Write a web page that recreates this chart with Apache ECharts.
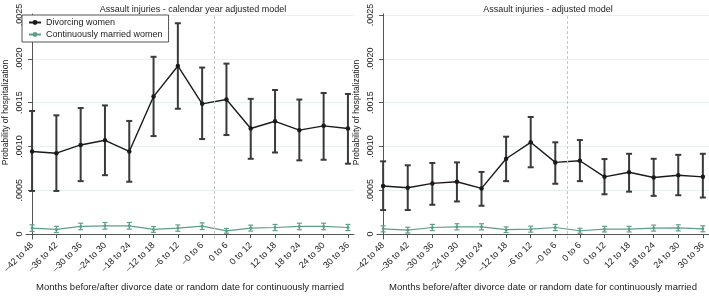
<!DOCTYPE html>
<html>
<head>
<meta charset="utf-8">
<script src="https://cdn.jsdelivr.net/npm/echarts@6/dist/echarts.min.js"></script>
<style>
html,body{margin:0;padding:0;background:#fff;}
#chart{width:709px;height:297px;}
</style>
</head>
<body>
<div id="chart"></div>
<script>
// categories (months before/after divorce)
var categories = ['\u201342 to 48','\u201336 to 42','\u201330 to 36','\u201324 to 30','\u201318 to 24','\u201312 to 18','\u20136 to 12','\u20130 to 6','0 to 6','0 to 12','12 to 18','18 to 24','24 to 30','30 to 36'];
var yTicks = [0, 0.0005, 0.001, 0.0015, 0.002, 0.0025];
var yTickLabels = ['0', '.0005', '.0010', '.0015', '.0020', '.0025'];

// left panel: calendar year adjusted model
var calDivorcing    = [0.000943,0.000923,0.001017,0.00107,0.000943,0.001569,0.001918,0.001486,0.001535,0.001205,0.001287,0.001186,0.001235,0.001205];
var calDivorcingLo  = [0.000492,0.000492,0.000604,0.000672,0.000597,0.001118,0.00143,0.001084,0.00113,0.000859,0.000931,0.000841,0.000848,0.000803];
var calDivorcingHi  = [0.001404,0.001355,0.001438,0.001468,0.001291,0.002023,0.002406,0.0019,0.001945,0.001543,0.001644,0.001535,0.00161,0.001599];
var calMarried      = [0.000068,0.000053,0.000087,0.000094,0.000094,0.000053,0.000068,0.00009,0.000037,0.000068,0.000075,0.000087,0.000087,0.000075];
var calMarriedLo    = [0.000030,0.000018,0.000050,0.000056,0.000056,0.000020,0.000032,0.000052,0.000010,0.000034,0.000040,0.000050,0.000050,0.000040];
var calMarriedHi    = [0.000106,0.000088,0.000124,0.000132,0.000132,0.000086,0.000104,0.000128,0.000064,0.000102,0.00011,0.000124,0.000124,0.00011];

// right panel: adjusted model
var adjDivorcing    = [0.000548,0.000529,0.000578,0.000597,0.000521,0.000859,0.001047,0.000818,0.000837,0.000653,0.000706,0.000645,0.000672,0.000653];
var adjDivorcingLo  = [0.000274,0.000274,0.000334,0.000372,0.000323,0.000604,0.000762,0.000574,0.000604,0.000454,0.000484,0.000436,0.000443,0.000417];
var adjDivorcingHi  = [0.00083,0.000785,0.000811,0.000818,0.000709,0.001111,0.001336,0.001047,0.001073,0.000856,0.000916,0.000859,0.000904,0.000916];
var adjMarried      = [0.00006,0.000045,0.000075,0.000083,0.000083,0.00005,0.000056,0.000075,0.000038,0.000056,0.000056,0.000068,0.000071,0.00006];
var adjMarriedLo    = [0.000025,0.000012,0.000040,0.000048,0.000048,0.000018,0.000022,0.000040,0.000010,0.000024,0.000024,0.000034,0.000036,0.000026];
var adjMarriedHi    = [0.000095,0.000078,0.00011,0.000118,0.000118,0.000082,0.00009,0.00011,0.000066,0.000088,0.000088,0.000102,0.000106,0.000094];

var FONT = '"Liberation Sans", Arial, sans-serif';
var BLACK = '#1a1a1a';
var GREEN = '#5f9e86';

function pts(arr){
    return arr.map(function(v, i){ return [i, v]; });
}
function bars(lo, hi){
    return lo.map(function(v, i){ return [i, v, hi[i]]; });
}
function errorBar(color, width, cap){
    return function(params, api){
        var x = api.value(0);
        var p1 = api.coord([x, api.value(1)]);
        var p2 = api.coord([x, api.value(2)]);
        var st = {stroke: color, lineWidth: width};
        return {type: 'group', children: [
            {type: 'line', shape: {x1: p1[0], y1: p1[1], x2: p2[0], y2: p2[1]}, style: st},
            {type: 'line', shape: {x1: p1[0]-cap, y1: p1[1], x2: p1[0]+cap, y2: p1[1]}, style: st},
            {type: 'line', shape: {x1: p2[0]-cap, y1: p2[1], x2: p2[0]+cap, y2: p2[1]}, style: st}
        ]};
    };
}

var idx = categories.map(function(c, i){ return i; });

function xAxisFor(g){
    return {
        type: 'value', gridIndex: g, min: -0.25, max: 13.25,
        name: 'Months before/after divorce date or random date for continuously married',
        nameLocation: 'middle', nameGap: 43, nameMoveOverlap: false,
        nameTextStyle: {fontFamily: FONT, fontSize: 9.5, color: '#222'},
        axisLine: {lineStyle: {color: '#555', width: 1}},
        axisTick: {customValues: idx, length: 4, lineStyle: {color: '#555'}},
        axisLabel: {customValues: idx, rotate: 45, fontFamily: FONT, fontSize: 9, color: '#222', margin: 5,
            formatter: function(v){ return categories[Math.round(v)]; }},
        splitLine: {show: false}
    };
}
function yAxisFor(g){
    return {
        type: 'value', gridIndex: g, min: -0.0000563, max: 0.0025113,
        name: 'Probability of hospitalization',
        nameLocation: 'middle', nameGap: 16, nameRotate: 90,
        nameTextStyle: {fontFamily: FONT, fontSize: 8.5, color: '#222', padding: [0, 0, 0, 28]},
        axisLine: {show: true, lineStyle: {color: '#555', width: 1}},
        axisTick: {show: true, customValues: yTicks, length: 4, lineStyle: {color: '#555'}},
        axisLabel: {customValues: yTicks, rotate: 90, fontFamily: FONT, fontSize: 9, color: '#222', margin: 2,
            formatter: function(v){
                for (var i = 0; i < yTicks.length; i++) {
                    if (Math.abs(v - yTicks[i]) < 1e-9) return yTickLabels[i];
                }
                return '';
            }},
        splitLine: {show: true, lineStyle: {color: '#e6f1f2', width: 1}}
    };
}

function panel(g, div, divLo, divHi, mar, marLo, marHi){
    return [{
        type: 'custom', xAxisIndex: g, yAxisIndex: g, z: 2,
        renderItem: errorBar('#3a3a3a', 2, 3),
        data: bars(divLo, divHi)
    }, {
        type: 'custom', xAxisIndex: g, yAxisIndex: g, z: 2,
        renderItem: errorBar(GREEN, 1.2, 2.5),
        data: bars(marLo, marHi)
    }, {
        name: 'Divorcing women', type: 'line', xAxisIndex: g, yAxisIndex: g, z: 3,
        data: pts(div), symbol: 'circle', symbolSize: 4.5,
        lineStyle: {color: BLACK, width: 1.4}, itemStyle: {color: BLACK},
        markLine: {
            silent: true, symbol: 'none', label: {show: false},
            lineStyle: {color: '#c8c8c8', type: [3, 2], width: 1},
            data: [{xAxis: 7.5}]
        }
    }, {
        name: 'Continuously married women', type: 'line', xAxisIndex: g, yAxisIndex: g, z: 3,
        data: pts(mar), symbol: 'circle', symbolSize: 3,
        lineStyle: {color: GREEN, width: 1.2}, itemStyle: {color: GREEN}
    }];
}

var chart = echarts.init(document.getElementById('chart'), null, {renderer: 'canvas'});
var option = {
    animation: false,
    backgroundColor: '#fff',
    textStyle: {fontFamily: FONT},
    title: [{
        text: 'Assault injuries - calendar year adjusted model',
        left: 188, top: 0, textAlign: 'center',
        textStyle: {fontFamily: FONT, fontSize: 9, fontWeight: 'normal', color: '#222'}
    }, {
        text: 'Assault injuries - adjusted model',
        left: 543, top: 0, textAlign: 'center',
        textStyle: {fontFamily: FONT, fontSize: 9, fontWeight: 'normal', color: '#222'}
    }],
    legend: {
        data: ['Divorcing women', 'Continuously married women'],
        orient: 'vertical', left: 22, top: 15,
        borderColor: '#555', borderWidth: 1, backgroundColor: '#fff',
        padding: [3, 6, 3, 6], itemGap: 3, itemWidth: 12, itemHeight: 6,
        textStyle: {fontFamily: FONT, fontSize: 9, color: '#222'}
    },
    grid: [
        {left: 22, top: 14, width: 332, height: 228},
        {left: 377, top: 14, width: 332, height: 228}
    ],
    xAxis: [xAxisFor(0), xAxisFor(1)],
    yAxis: [yAxisFor(0), yAxisFor(1)],
    series: panel(0, calDivorcing, calDivorcingLo, calDivorcingHi, calMarried, calMarriedLo, calMarriedHi)
        .concat(panel(1, adjDivorcing, adjDivorcingLo, adjDivorcingHi, adjMarried, adjMarriedLo, adjMarriedHi))
};
chart.setOption(option);
</script>
</body>
</html>
